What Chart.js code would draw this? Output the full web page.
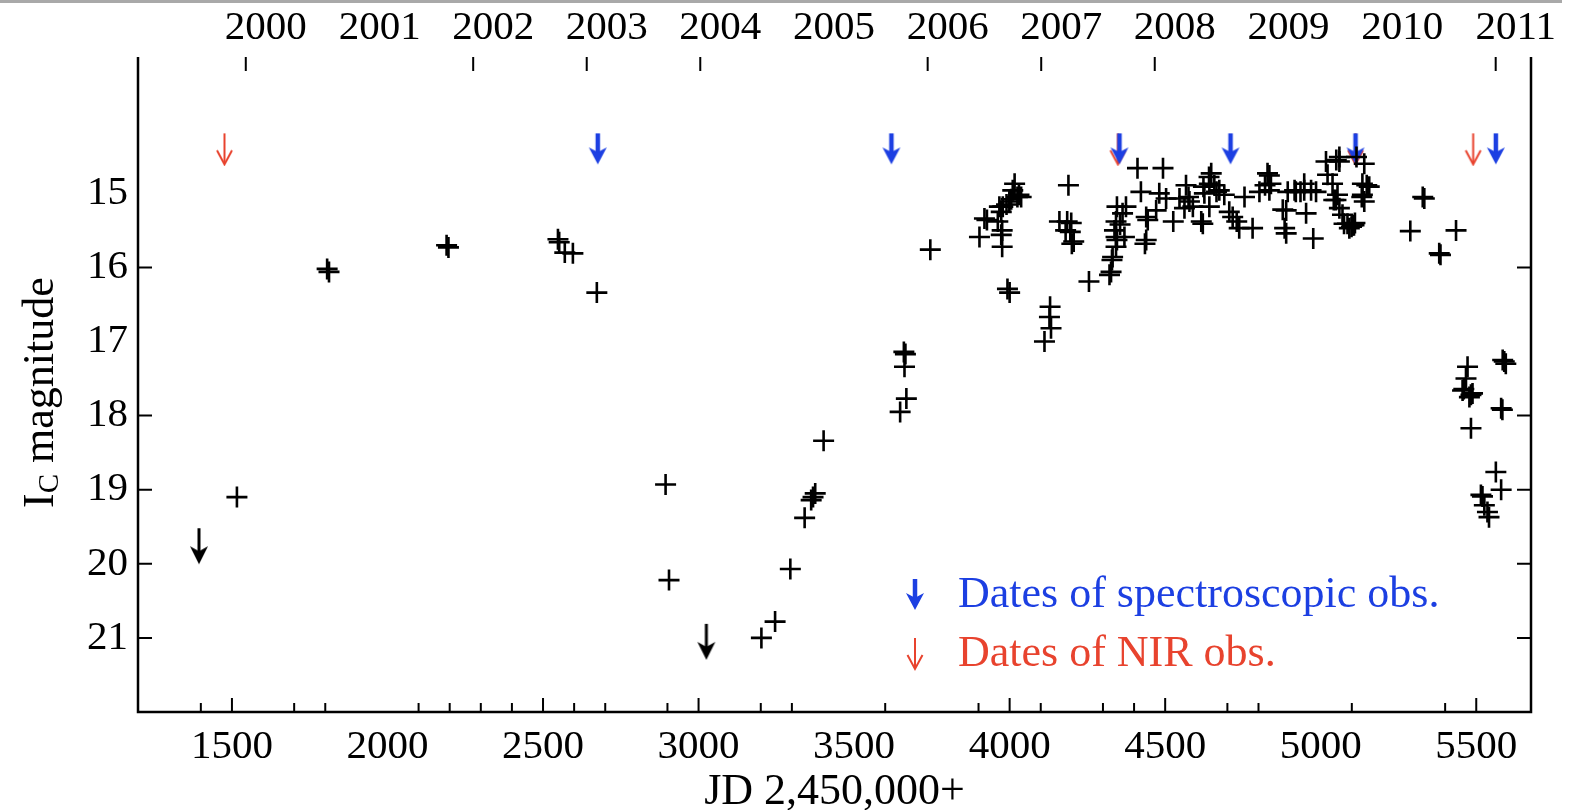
<!DOCTYPE html>
<html><head><meta charset="utf-8">
<script src="https://cdn.jsdelivr.net/npm/chart.js@4/dist/chart.umd.min.js"></script>
<style>html,body{margin:0;padding:0;background:#fff;}#wrap{width:1586px;height:810px;}</style>
</head><body><div id="wrap"><canvas id="c" width="1586" height="810"></canvas></div>
<script>
// ---- data (JD - 2,450,000 ; I_C magnitude) ----
const photJD = [
 1516,1806,1812,2190,2196,2548,2552,2570,2596,2673,2894,2905,3202,3246,3295,3341,3362,3368,3375,3402,
 3648,3668,3660,3665,3662,3745,
 3903,3919,3927,3962,3967,3973,3978,3976,3973,3976,3990,3999,4005,4010,4016,4025,4037,4030,3993,4000,
 4112,4128,4130,4133,4189,4160,4185,4198,4180,4195,4206,4200,
 4255,4321,4326,4329,4331,4342,4345,4337,4342,4369,4342,4345,4363,4374,4355,4411,4422,4439,4444,4435,4439,4471,4481,4493,4503,4526,
 4546,4562,4567,4575,4578,4589,4616,4621,4623,4626,4641,4642,4642,4648,4658,4665,4674,4690,4706,4717,4730,4738,4755,4781,4803,4821,
 4829,4835,4840,4835,4878,4889,4884,4889,4894,4916,4920,4935,4947,4947,4969,4985,4953,4976,5017,5022,5038,5042,5049,5054,5050,5060,5060,5060,5070,5075,5086,5092,5099,5102,5107,5110,5115,5140,5134,5148,5156,5132,5140,5134,
 5288,5328,5333,5381,5385,5435,
 5456,5460,5467,5472,5478,5483,5488,5483,5515,5520,5526,5536,5541,5563,5580,5580,5584,5585,5590,5595
];
const photMag = [
 19.10,16.02,16.06,15.70,15.73,15.62,15.66,15.80,15.81,16.34,18.93,20.22,21.00,20.78,20.07,19.38,19.14,19.10,19.05,18.34,
 17.95,17.77,17.14,17.17,17.34,15.76,
 15.59,15.34,15.36,15.38,15.18,15.25,15.18,15.50,15.56,15.72,15.15,15.11,15.08,14.96,14.87,15.05,15.05,15.02,16.29,16.34,
 17.00,16.67,16.53,16.82,14.89,15.38,15.38,15.40,15.50,15.52,15.65,15.68,
 16.19,16.10,16.06,15.90,15.86,15.72,15.63,15.50,15.59,15.59,15.38,15.18,15.27,15.18,15.42,14.66,14.98,15.32,15.36,15.68,15.63,15.23,15.00,14.66,15.07,15.38,
 15.07,15.20,14.89,15.05,15.11,15.18,15.38,15.41,14.91,15.00,14.78,14.87,15.18,14.73,14.89,14.98,14.96,15.02,15.25,15.32,15.38,15.47,15.05,15.47,14.98,14.89,
 14.73,14.76,14.87,14.96,15.22,15.23,15.47,15.54,14.98,14.96,14.98,14.98,14.87,14.96,14.96,14.98,15.27,15.61,14.57,14.75,14.87,15.09,15.09,15.02,14.55,14.51,14.57,15.20,15.29,15.41,15.41,15.47,15.45,15.43,15.43,15.40,14.51,14.60,14.87,14.89,14.91,15.05,15.11,15.02,
 15.51,15.05,15.07,15.81,15.83,15.50,
 17.66,17.64,17.50,17.34,17.75,17.72,17.70,18.17,19.07,19.09,19.21,19.30,19.37,18.76,19.00,17.90,17.92,17.25,17.27,17.30
];
const limitJD  = [1394, 3025];
const limitMag = [19.52, 20.81];
const specJD = [2676, 3620, 4353, 4710, 5112, 5563];
const nirJD  = [1476, 4348, 5112, 5490];

// ---- axes / ticks ----
const xLabelValues = [1500, 2000, 2500, 3000, 3500, 4000, 4500, 5000, 5500];
const xTickMarks = [1400,1500,1700,1800,2100,2200,2300,2400,2500,2600,2700,2900,3000,3200,3300,3600,3900,4000,4100,4300,4400,4500,4700,4800,5100,5400,5500];
const yearLabels = ['2000','2001','2002','2003','2004','2005','2006','2007','2008','2009','2010','2011'];
const yearJD = [1544.5,1910.5,2275.5,2640.5,3005.5,3371.5,3736.5,4101.5,4466.5,4832.5,5197.5,5562.5];
const yearTickMarks = [1544.5,2275.5,2640.5,3005.5,3736.5,4101.5,4466.5,5562.5];
const yLabelValues = [15, 16, 17, 18, 19, 20, 21];
const yTickMarks = [16, 18, 19, 20, 21];

const SERIF = "'Liberation Serif','Times New Roman',serif";
const BLUE = '#1c3fe2';
const RED = '#e8432e';
const ARROW_MAG = 14.19;

function drawArrow(ctx, cx, yTop, s) {
  const tip = yTop + s.len;
  ctx.save();
  ctx.strokeStyle = s.color; ctx.fillStyle = s.color;
  ctx.lineCap = 'butt';
  ctx.lineWidth = s.lw;
  if (s.open) {
    ctx.beginPath(); ctx.moveTo(cx, yTop); ctx.lineTo(cx, tip - 1); ctx.stroke();
    ctx.beginPath(); ctx.moveTo(cx - s.hw, tip - s.hh); ctx.lineTo(cx, tip); ctx.lineTo(cx + s.hw, tip - s.hh); ctx.stroke();
  } else {
    ctx.beginPath(); ctx.moveTo(cx, yTop); ctx.lineTo(cx, tip - s.hh * 0.5); ctx.stroke();
    ctx.beginPath();
    ctx.moveTo(cx, tip);
    ctx.lineTo(cx - s.hw, tip - s.hh);
    ctx.lineTo(cx, tip - s.hh * 0.72);
    ctx.lineTo(cx + s.hw, tip - s.hh);
    ctx.closePath(); ctx.fill();
  }
  ctx.restore();
}
const specStyle = {color: BLUE, len: 31, hw: 9, hh: 17, lw: 4.5, open: false};
const nirStyle  = {color: RED, len: 31, hw: 7.5, hh: 14, lw: 2, open: true};
const limStyle  = {color: '#000', len: 36, hw: 9, hh: 18, lw: 3, open: false};

function arrowCanvas(s) {
  const c = document.createElement('canvas');
  c.width = Math.ceil(s.hw * 2 + 6);
  c.height = s.len * 2 + 4;
  drawArrow(c.getContext('2d'), c.width / 2, c.height / 2, s);
  return c;
}

const framePlugin = {
  id: 'frame',
  beforeDraw(chart) {
    const ctx = chart.ctx;
    ctx.save();
    ctx.fillStyle = '#fff'; ctx.fillRect(0, 0, chart.width, chart.height);
    ctx.fillStyle = '#a9a9a9'; ctx.fillRect(0, 0, 1562, 3);
    ctx.restore();
  },
  afterDraw(chart) {
    const ctx = chart.ctx, a = chart.chartArea;
    const xs = chart.scales.x, ys = chart.scales.y;
    ctx.save();
    ctx.strokeStyle = '#000';
    ctx.lineWidth = 2.5;
    ctx.beginPath();
    ctx.moveTo(a.left, a.top); ctx.lineTo(a.left, a.bottom); ctx.lineTo(a.right, a.bottom); ctx.lineTo(a.right, a.top);
    ctx.stroke();
    ctx.lineWidth = 2;
    ctx.beginPath();
    xTickMarks.forEach(v => {
      const px = xs.getPixelForValue(v);
      const L = (v % 500 === 0) ? 14 : 9;
      ctx.moveTo(px, a.bottom); ctx.lineTo(px, a.bottom - L);
    });
    yearTickMarks.forEach(v => {
      const px = xs.getPixelForValue(v);
      ctx.moveTo(px, a.top); ctx.lineTo(px, a.top + 14);
    });
    yTickMarks.forEach(v => {
      const py = ys.getPixelForValue(v);
      ctx.moveTo(a.left, py); ctx.lineTo(a.left + 14, py);
      ctx.moveTo(a.right, py); ctx.lineTo(a.right - 14, py);
    });
    ctx.stroke();

    // y axis title with subscript
    ctx.fillStyle = '#000';
    ctx.translate(53, 508);
    ctx.rotate(-Math.PI / 2);
    ctx.textBaseline = 'alphabetic'; ctx.textAlign = 'left';
    ctx.font = '44px ' + SERIF;
    ctx.fillText('I', 0, 0);
    let w = ctx.measureText('I').width;
    ctx.font = '29px ' + SERIF;
    ctx.fillText('C', w, 5);
    w += ctx.measureText('C').width;
    ctx.font = '44px ' + SERIF;
    ctx.fillText(' magnitude', w, 0);
    ctx.restore();

    // legend
    ctx.save();
    drawArrow(ctx, 915, 579, specStyle);
    drawArrow(ctx, 915, 638, nirStyle);
    ctx.font = '44px ' + SERIF;
    ctx.textBaseline = 'alphabetic'; ctx.textAlign = 'left';
    ctx.fillStyle = BLUE; ctx.fillText('Dates of spectroscopic obs.', 958, 607);
    ctx.fillStyle = RED; ctx.fillText('Dates of NIR obs.', 958, 666);
    ctx.restore();
  }
};

const phot = photJD.map((x, i) => ({x, y: photMag[i]}));
const limits = limitJD.map((x, i) => ({x, y: limitMag[i]}));
const spec = specJD.map(x => ({x, y: ARROW_MAG}));
const nir = nirJD.map(x => ({x, y: ARROW_MAG}));

new Chart(document.getElementById('c'), {
  type: 'scatter',
  data: {datasets: [
    {label: 'I_C', data: phot, pointStyle: 'cross', pointRadius: 10.5, pointBorderColor: '#000', pointBorderWidth: 2.6, borderColor: '#000', showLine: false},
    {label: 'limits', data: limits, pointStyle: arrowCanvas(limStyle), pointRadius: 10, showLine: false},
    {label: 'spec', data: spec, pointStyle: arrowCanvas(specStyle), pointRadius: 10, showLine: false},
    {label: 'nir', data: nir, pointStyle: arrowCanvas(nirStyle), pointRadius: 10, showLine: false}
  ]},
  options: {
    responsive: false, animation: false, devicePixelRatio: 1,
    layout: {padding: {left: 0, right: 55, top: 0, bottom: 0}},
    plugins: {legend: {display: false}, tooltip: {enabled: false}},
    scales: {
      x: {
        type: 'linear', position: 'bottom', min: 1198, max: 5676,
        afterBuildTicks: s => { s.ticks = xLabelValues.map(v => ({value: v})); },
        afterFit: s => { s.height = 98; },
        grid: {display: false, drawTicks: false}, border: {display: false},
        ticks: {autoSkip: false, maxRotation: 0, padding: 11, color: '#000', font: {family: SERIF, size: 41},
          callback: v => String(v)},
        title: {display: true, text: 'JD 2,450,000+', color: '#000', font: {family: SERIF, size: 44, lineHeight: 0.82}, padding: 0}
      },
      xTop: {
        type: 'linear', position: 'top', min: 1198, max: 5676,
        afterBuildTicks: s => { s.ticks = yearJD.map(v => ({value: v})); },
        afterFit: s => { s.height = 57; },
        grid: {display: false, drawTicks: false}, border: {display: false},
        ticks: {autoSkip: false, maxRotation: 0, padding: 4, labelOffset: 20, color: '#000', font: {family: SERIF, size: 41},
          callback: v => yearLabels[yearJD.indexOf(v)]}
      },
      y: {
        type: 'linear', position: 'left', reverse: true, min: 13.16, max: 22,
        afterBuildTicks: s => { s.ticks = yLabelValues.map(v => ({value: v})); },
        afterFit: s => { s.width = 138; },
        grid: {display: false, drawTicks: false}, border: {display: false},
        ticks: {padding: 10, color: '#000', font: {family: SERIF, size: 41}}
      }
    }
  },
  plugins: [framePlugin]
});
</script></body></html>
